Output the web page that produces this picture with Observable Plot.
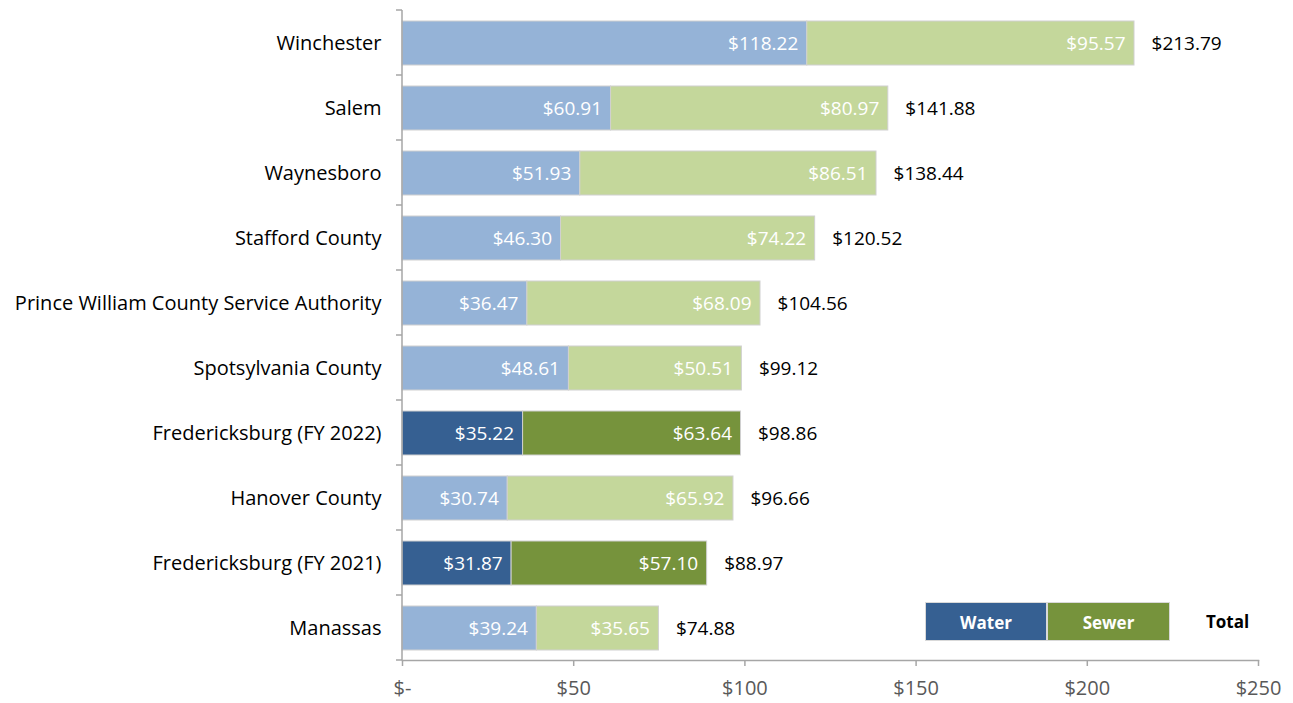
<!DOCTYPE html>
<html>
<head>
<meta charset="utf-8">
<script src="https://cdn.jsdelivr.net/npm/d3@7"></script>
<script src="https://cdn.jsdelivr.net/npm/@observablehq/plot@0.6"></script>
<style>
  html, body { margin: 0; padding: 0; background: #fff; }
  #wrap { position: relative; width: 1293px; height: 703px; font-family: "Open Sans", sans-serif; }
  .lg { position: absolute; top: 602px; height: 39px; line-height: 39px; text-align: center; font-weight: bold; font-size: 17px; color: #fff; box-sizing: border-box; }
</style>
</head>
<body>
<div id="wrap"></div>
<script>
const names = ["Winchester", "Salem", "Waynesboro", "Stafford County", "Prince William County Service Authority",
  "Spotsylvania County", "Fredericksburg (FY 2022)", "Hanover County", "Fredericksburg (FY 2021)", "Manassas"];
const water = [118.22, 60.91, 51.93, 46.30, 36.47, 48.61, 35.22, 30.74, 31.87, 39.24];
const sewer = [95.57, 80.97, 86.51, 74.22, 68.09, 50.51, 63.64, 65.92, 57.10, 35.65];
const total = [213.79, 141.88, 138.44, 120.52, 104.56, 99.12, 98.86, 96.66, 88.97, 74.88];
const xTicks = [0, 50, 100, 150, 200, 250];
const xTickLabels = ["$-", "$50", "$100", "$150", "$200", "$250"];
const highlighted = ["Fredericksburg (FY 2022)", "Fredericksburg (FY 2021)"];

const segs = [];
names.forEach((n, i) => {
  segs.push({name: n, type: "Water", x1: 0, x2: water[i], v: water[i]});
  segs.push({name: n, type: "Sewer", x1: water[i], x2: water[i] + sewer[i], v: sewer[i]});
});
const totals = names.map((n, i) => ({name: n, total: total[i]}));

const colorOf = d => {
  const hi = highlighted.includes(d.name);
  if (d.type === "Water") return hi ? "#366092" : "#95b3d7";
  return hi ? "#76933c" : "#c4d79b";
};
const fmt = v => "$" + v.toFixed(2);

const boundaryTicks = (index, scales, values, dims) => {
  const g = d3.create("svg:g");
  const step = (dims.height - dims.marginTop - dims.marginBottom) / names.length;
  const y0 = dims.marginTop;
  for (let k = 0; k <= names.length; k++) {
    g.append("line").attr("x1", dims.marginLeft - 6).attr("x2", dims.marginLeft)
      .attr("y1", y0 + k * step).attr("y2", y0 + k * step)
      .attr("stroke", "#a6a6a6").attr("stroke-width", 1.5);
  }
  g.append("line").attr("x1", dims.marginLeft).attr("x2", dims.marginLeft)
    .attr("y1", y0).attr("y2", dims.height - dims.marginBottom)
    .attr("stroke", "#a6a6a6").attr("stroke-width", 1.5);
  return g.node();
};

const chart = Plot.plot({
  width: 1293,
  height: 703,
  marginLeft: 402,
  marginRight: 35,
  marginTop: 10,
  marginBottom: 43,
  style: {fontFamily: "'Open Sans', sans-serif", fontSize: "19px", background: "#fff"},
  x: {domain: [0, 250]},
  y: {domain: names, padding: 0.33, paddingOuter: 0.165, align: 0.5},
  marks: [
    Plot.barX(segs, {x1: "x1", x2: "x2", y: "name", fill: colorOf, stroke: "#d0d0d0", strokeWidth: 1}),
    Plot.text(segs, {x: "x2", y: "name", text: d => fmt(d.v), textAnchor: "end", dx: -9, fill: "#fff", fontSize: 19}),
    Plot.text(totals, {x: "total", y: "name", text: d => fmt(d.total), textAnchor: "start", dx: 17, fill: "#000", fontSize: 19}),
    Plot.axisY({tickSize: 0, tickPadding: 21, label: null, fill: "#000", fontSize: 20}),
    Plot.axisX({ticks: xTicks, tickFormat: d => xTickLabels[xTicks.indexOf(d)], tickSize: 6, tickPadding: 14,
      label: null, stroke: "#a6a6a6", strokeWidth: 1.5, color: "#595959", fill: "#595959", fontSize: 20}),
    Plot.frame({anchor: "bottom", stroke: "#a6a6a6", strokeWidth: 1.5}),
    boundaryTicks
  ]
});

const wrap = document.getElementById("wrap");
wrap.appendChild(chart);
const legend = [
  {label: "Water", left: 925, width: 122, bg: "#366092", color: "#fff"},
  {label: "Sewer", left: 1047, width: 123, bg: "#76933c", color: "#fff"},
  {label: "Total", left: 1190, width: 75, bg: "transparent", color: "#000"}
];
legend.forEach(l => {
  const d = document.createElement("div");
  d.className = "lg";
  d.textContent = l.label;
  d.style.left = l.left + "px";
  d.style.width = l.width + "px";
  d.style.background = l.bg;
  d.style.color = l.color;
  if (l.bg !== "transparent") d.style.border = "1px solid #d9d9d9";
  wrap.appendChild(d);
});
</script>
</body>
</html>
